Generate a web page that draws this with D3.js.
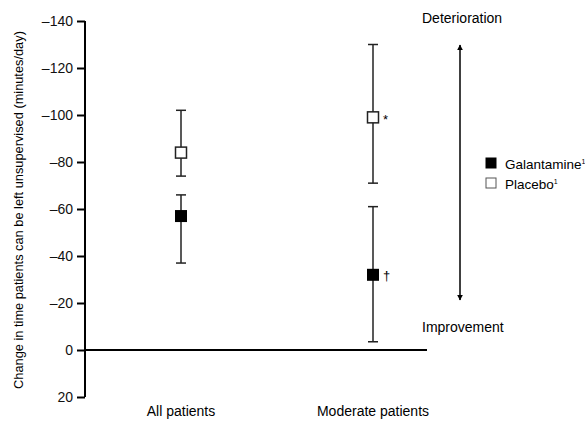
<!DOCTYPE html>
<html>
<head>
<meta charset="utf-8">
<script src="https://cdn.jsdelivr.net/npm/d3@7"></script>
<style>
  body { margin: 0; background: #fff; }
  svg { font-family: "Liberation Sans", Arial, sans-serif; }
</style>
</head>
<body>
<svg id="chart" width="585" height="423"></svg>
<script>
// data
var categories = ["All patients", "Moderate patients"]
var galMean = [-57, -32]
var galLow = [-66, -61]   // upper end of bar (more negative)
var galHigh = [-37, -3.5]
var plaMean = [-84, -99]
var plaLow = [-102, -130]
var plaHigh = [-74, -71]
var yTicks = [-140, -120, -100, -80, -60, -40, -20, 0, 20]
var markers = ["", "*"]      // next to placebo
var galMarkers = ["", "\u2020"]

var svg = d3.select("#chart")

var x = d3.scalePoint()
  .domain(categories)
  .range([85, 469])
  .padding(0.5)

var y = d3.scaleLinear()
  .domain([20, -140])
  .range([397, 21])

// y axis
var yAxis = svg.append("g")
  .attr("transform", "translate(85,0)")
  .call(d3.axisLeft(y).tickValues(yTicks).tickSize(8).tickPadding(4)
    .tickFormat(function(d) { return d < 0 ? "\u2013" + Math.abs(d) : d }))
yAxis.select(".domain").attr("stroke", "#000").attr("stroke-width", 2).attr("d", "M0," + y(20) + "V" + y(-140))
yAxis.selectAll(".tick line").attr("stroke-width", 2)
yAxis.selectAll("text").attr("font-size", 14).attr("fill", "#111")

// zero line
svg.append("line")
  .attr("x1", 85).attr("x2", 427)
  .attr("y1", y(0)).attr("y2", y(0))
  .attr("stroke", "#000").attr("stroke-width", 2)

// x labels
svg.selectAll(".xlab")
  .data(categories)
  .enter().append("text")
  .attr("x", function(d) { return x(d) })
  .attr("y", 416)
  .attr("text-anchor", "middle")
  .attr("font-size", 14)
  .text(function(d) { return d })

// y title
svg.append("text")
  .attr("transform", "translate(23," + 210 + ") rotate(-90)")
  .attr("text-anchor", "middle")
  .attr("font-size", 12.8)
  .text("Change in time patients can be left unsupervised (minutes/day)")

// error bars
function errBars(lo, hi) {
  var g = svg.append("g")
  categories.forEach(function(c, i) {
    var cx = x(c)
    g.append("line").attr("x1", cx).attr("x2", cx)
      .attr("y1", y(lo[i])).attr("y2", y(hi[i]))
      .attr("stroke", "#222").attr("stroke-width", 1.5)
    ;[lo[i], hi[i]].forEach(function(v) {
      g.append("line").attr("x1", cx - 5).attr("x2", cx + 5)
        .attr("y1", y(v)).attr("y2", y(v))
        .attr("stroke", "#222").attr("stroke-width", 1.5)
    })
  })
}
errBars(plaLow, plaHigh)
errBars(galLow, galHigh)

// means
svg.selectAll(".pla")
  .data(plaMean)
  .enter().append("rect")
  .attr("x", function(d, i) { return x(categories[i]) - 5.5 })
  .attr("y", function(d) { return y(d) - 5.5 })
  .attr("width", 11).attr("height", 11)
  .attr("fill", "#fff").attr("stroke", "#222").attr("stroke-width", 1.5)

svg.selectAll(".gal")
  .data(galMean)
  .enter().append("rect")
  .attr("x", function(d, i) { return x(categories[i]) - 6 })
  .attr("y", function(d) { return y(d) - 6 })
  .attr("width", 12).attr("height", 12)
  .attr("fill", "#000")

// significance marks
svg.selectAll(".pm")
  .data(plaMean)
  .enter().append("text")
  .attr("x", function(d, i) { return x(categories[i]) + 10 })
  .attr("y", function(d) { return y(d) + 7 })
  .attr("font-size", 13)
  .text(function(d, i) { return markers[i] })

svg.selectAll(".gm")
  .data(galMean)
  .enter().append("text")
  .attr("x", function(d, i) { return x(categories[i]) + 10 })
  .attr("y", function(d) { return y(d) + 5 })
  .attr("font-size", 13)
  .attr("fill", "#000")
  .text(function(d, i) { return galMarkers[i] })

// direction arrow
var defs = svg.append("defs")
defs.append("marker").attr("id", "ah")
  .attr("viewBox", "0 0 10 10").attr("refX", 9).attr("refY", 5)
  .attr("markerWidth", 6).attr("markerHeight", 8).attr("orient", "auto-start-reverse")
  .attr("markerUnits", "userSpaceOnUse")
  .append("path").attr("d", "M0,0L10,5L0,10Z").attr("fill", "#000")

svg.append("line")
  .attr("x1", 460).attr("x2", 460)
  .attr("y1", 45).attr("y2", 300)
  .attr("stroke", "#000").attr("stroke-width", 1.5)
  .attr("marker-start", "url(#ah)").attr("marker-end", "url(#ah)")

svg.append("text").attr("x", 422).attr("y", 23)
  .attr("font-size", 14).text("Deterioration")
svg.append("text").attr("x", 422).attr("y", 332)
  .attr("font-size", 14).text("Improvement")

// legend
var legend = [["Galantamine", "#000"], ["Placebo", "#fff"]]
var lg = svg.selectAll(".lg")
  .data(legend)
  .enter().append("g")
  .attr("transform", function(d, i) { return "translate(486," + (158 + i * 20) + ")" })
lg.append("rect").attr("width", 10).attr("height", 10)
  .attr("fill", function(d) { return d[1] })
  .attr("stroke", function(d, i) { return i ? "#555" : "#000" }).attr("stroke-width", 1)
lg.append("text").attr("x", 19).attr("y", 10.5).attr("font-size", 13.5)
  .text(function(d) { return d[0] })
  .append("tspan").attr("font-size", 7).attr("dy", -5).text("1")
</script>
</body>
</html>
